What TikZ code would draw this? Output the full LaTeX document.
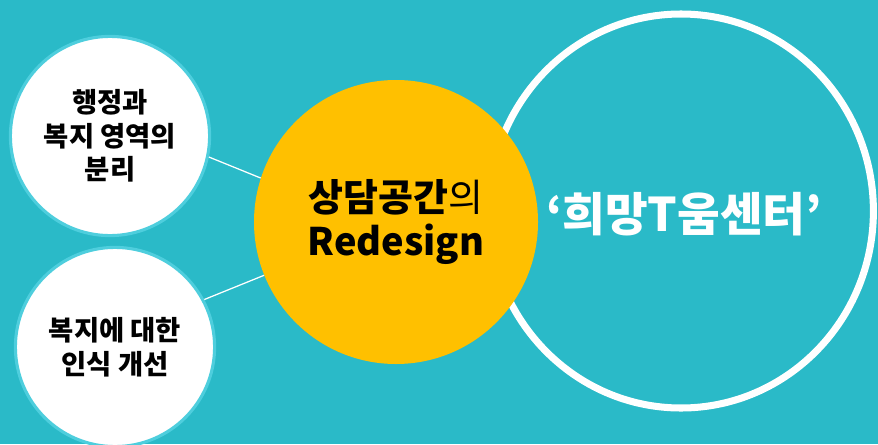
\documentclass[tikz,border=0pt]{standalone}
\usepackage{fontspec}
\setmainfont{Noto Sans CJK KR}
\usepackage{tikz}
\usepackage{xcolor}
\usetikzlibrary{shapes.geometric, positioning}
\definecolor{hopeteal}{RGB}{42, 186, 200}
\definecolor{hopeedge}{RGB}{78, 206, 221}
\definecolor{hopeyellow}{RGB}{255, 192, 0}

\begin{document}
\begin{tikzpicture}[
    sidecircle/.style={
        circle,
        draw=hopeedge,
        line width=2.2pt,
        fill=white,
        minimum size=4.98cm,
        align=center,
        font=\fontsize{19.5}{23.8}\selectfont\bfseries
    },
    corecircle/.style={
        circle,
        fill=hopeyellow,
        minimum size=7.1cm,
        align=center,
        font=\fontsize{27}{31}\selectfont
    },
    ringshape/.style={
        ellipse,
        draw=white,
        line width=5pt,
        minimum width=9.62cm,
        minimum height=9.85cm
    },
    ringtext/.style={
        text=white,
        font=\fontsize{33}{38}\selectfont\bfseries
    },
    link/.style={
        draw=white,
        line width=0.9pt
    }
]

% Background rectangle
\useasboundingbox (0,0) rectangle (21.95,11.1);
\fill[hopeteal] (0,0) rectangle (21.95,11.1);

% Ring
\node[ringshape] (ring) at (17.025,5.825) {};
\node[ringtext] (center) at (17.1,5.75) {‘희망T움센터’};

% Core
\node[corecircle] (space) at (9.9,5.55) {{\bfseries 상담공간}의\\{\bfseries Redesign}};

% Side circles
\node[sidecircle] (split) at (2.75,7.7) {행정과\\복지 영역의\\분리};
\node[sidecircle] (view) at (2.875,2.425) {복지에 대한\\인식 개선};

% Links
\draw[link] (split.-12) -- (space.162);
\draw[link] (view.28) -- (space.202);

\end{tikzpicture}
\end{document}
